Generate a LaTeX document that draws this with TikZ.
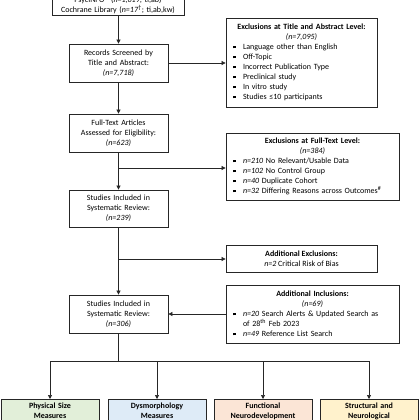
\documentclass[tikz,border=0pt]{standalone}
\usepackage{fontspec}
\setmainfont{Carlito}
\usetikzlibrary{arrows.meta}
\definecolor{cgreen}{HTML}{E2EFD9}
\definecolor{cblue}{HTML}{DEEBF7}
\definecolor{cpeach}{HTML}{FBE5D6}
\definecolor{cyellow}{HTML}{FFF2CC}
\newcommand\bitem[1]{\par\noindent\hangindent=10pt\hangafter=1\makebox[10pt][l]{\rule[1.3pt]{2.6pt}{2.6pt}}#1}
\newcommand\extitle[2]{\noindent{\centering\textbf{#1}\\\textit{#2}\par}\raggedright}
\begin{document}
\begin{tikzpicture}[x=1pt,y=-1pt,
 box/.style={draw=black!85, line width=0.8pt, fill=white, align=center, font=\fontsize{8}{10}\selectfont, inner sep=2pt},
 mainbox/.style={box, minimum width=99pt, minimum height=38pt, text width=95pt},
 exbox/.style={draw=black!85, line width=0.8pt, fill=white, font=\fontsize{8}{10}\selectfont, inner xsep=7pt, inner ysep=2pt},
 conn/.style={line width=0.7pt, draw=black!85},
 arr/.style={conn, -{Triangle[length=4pt,width=4pt]}},
 outbox/.style={box, minimum width=98pt, text width=94pt, anchor=north, inner ysep=3pt, text depth=10pt, font=\bfseries\fontsize{8}{10}\selectfont}
]
\useasboundingbox (0,0) rectangle (420,420);
\fill[white] (0,0) rectangle (420,420);
\clip (0,0) rectangle (420,420);

% main column
\node[box, anchor=south, minimum width=132pt, text width=128pt] (top) at (118,16)
  {PsycINFO® (\textit{n=1,019}; ti,ab)\\Cochrane Library (\textit{n=17}\textsuperscript{†}; ti,ab,kw)};
\node[mainbox] (rec) at (118.5,63) {Records Screened by\\Title and Abstract:\\\textit{(n=7,718)}};
\node[mainbox] (full) at (118.5,133) {Full-Text Articles\\Assessed for Eligibility:\\\textit{(n=623)}};
\node[mainbox, minimum height=37pt] (inc1) at (118.5,208.5) {Studies Included in\\Systematic Review:\\\textit{(n=239)}};
\node[mainbox] (inc2) at (118.5,314) {Studies Included in\\Systematic Review:\\\textit{(n=306)}};

% right column
\node[exbox, text width=137pt, minimum height=89pt] (ex1) at (301.5,62.5)
 {\extitle{Exclusions at Title and Abstract Level:}{(n=7,095)}
  \bitem{Language other than English}
  \bitem{Off-Topic}
  \bitem{Incorrect Publication Type}
  \bitem{Preclinical study}
  \bitem{In vitro study}
  \bitem{Studies ≤10 participants}\par};
\node[exbox, text width=159pt, minimum height=67pt] (ex2) at (312.5,166.5)
 {\extitle{Exclusions at Full-Text Level:}{(n=384)}
  \bitem{\textit{n=210} No Relevant/Usable Data}
  \bitem{\textit{n=102} No Control Group}
  \bitem{\textit{n=40} Duplicate Cohort}
  \bitem{\textit{n=32} Differing Reasons across Outcomes\textsuperscript{\#}}\par};
\node[box, minimum width=151pt, minimum height=27pt] (ex3) at (301.5,258.5)
 {\textbf{Additional Exclusions:}\\\textit{n=2} Critical Risk of Bias};
\node[exbox, text width=159pt, minimum height=58pt] (add) at (312.5,314)
 {\extitle{Additional Inclusions:}{(n=69)}
  \bitem{\textit{n=20} Search Alerts \& Updated Search as\newline of 28\textsuperscript{th} Feb 2023}
  \bitem{\textit{n=49} Reference List Search}\par};

% outcome boxes
\node[outbox, fill=cgreen] (o1) at (50,399) {Physical Size\\Measures};
\node[outbox, fill=cblue] (o2) at (157,399) {Dysmorphology\\Measures};
\node[outbox, fill=cpeach] (o3) at (263,399) {Functional\\Neurodevelopment};
\node[outbox, fill=cyellow] (o4) at (369,399) {Structural and\\Neurological};

% connectors
\draw[arr] (top.south -| rec.north) -- (rec.north);
\draw[arr] (rec.east) -- (rec.east -| ex1.west);
\draw[arr] (rec.south) -- (full.north);
\draw[arr] (full.south) -- (inc1.north);
\coordinate (b1) at (118.5,168);
\draw[arr] (b1) -- (b1 -| ex2.west);
\draw[arr] (inc1.south) -- (inc2.north);
\coordinate (b2) at (118.5,259);
\draw[arr] (b2) -- (b2 -| ex3.west);
\draw[arr] (add.west) -- (add.west -| inc2.east);
\coordinate (hub) at (118.5,361);
\draw[conn] (inc2.south) -- (hub);
\draw[conn] (hub -| o1.north) -- (hub -| o4.north);
\foreach \o in {o1,o2,o3,o4} \draw[arr] (hub -| \o.north) -- (\o.north);
\end{tikzpicture}
\end{document}
